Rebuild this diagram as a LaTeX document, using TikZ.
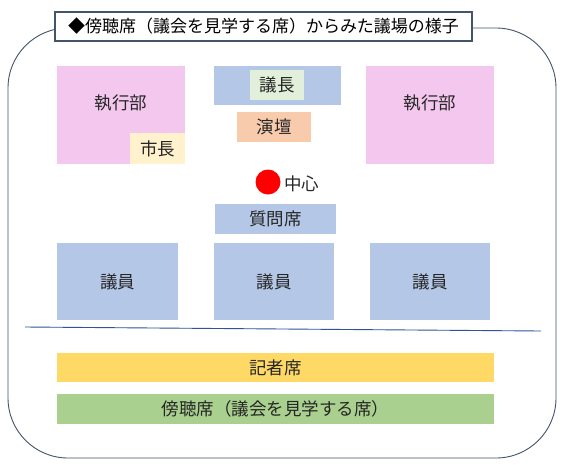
\documentclass[tikz,border=0pt]{standalone}
\usepackage{fontspec}
\setmainfont{Noto Sans CJK JP}
\definecolor{frame}{HTML}{44546A}
\definecolor{pinkx}{HTML}{F4C7EE}
\definecolor{bluex}{HTML}{B4C7E7}
\definecolor{greenl}{HTML}{E2EFDA}
\definecolor{peach}{HTML}{F8CBAD}
\definecolor{creamx}{HTML}{FFF2CC}
\definecolor{goldx}{HTML}{FFD966}
\definecolor{greenx}{HTML}{A9D08E}
\definecolor{linex}{HTML}{2F5597}
\definecolor{ink}{HTML}{262626}
\begin{document}
\begin{tikzpicture}[x=1pt,y=-1pt,
  area/.style={draw=none,inner sep=0pt,text=ink,font=\fontsize{17.5}{17.5}\selectfont},
  txt/.style={inner sep=0pt,text=ink,font=\fontsize{17.5}{17.5}\selectfont}]
\useasboundingbox (0,0) rectangle (568,464);
\fill[white] (0,0) rectangle (568,464);
\draw[frame,line width=0.9pt,rounded corners=60pt] (8,28) rectangle (556,458);
\node[draw=frame,fill=white,line width=1.1pt,inner sep=0pt,text=black,minimum width=417pt,minimum height=29pt,font=\fontsize{17}{17}\selectfont] (title) at (263.5,26.5) {◆傍聴席（議会を見学する席）からみた議場の様子};
% executive left
\node[area,fill=pinkx,minimum width=128pt,minimum height=98pt] (exL) at (121,115) {};
\node[txt] (exLt) at (121,103) {執行部};
\node[area,fill=creamx,minimum width=55pt,minimum height=31pt] (mayor) at (157.5,148.5) {市長};
% executive right
\node[area,fill=pinkx,minimum width=128pt,minimum height=98pt] (exR) at (430,115) {};
\node[txt] (exRt) at (430,103) {執行部};
% chair
\node[area,fill=bluex,minimum width=127pt,minimum height=39pt] (chairbar) at (277.5,85.5) {};
\node[area,fill=greenl,minimum width=54pt,minimum height=30pt] (chair) at (277,85) {議長};
\node[area,fill=peach,minimum width=74pt,minimum height=30pt] (podium) at (274,127) {演壇};
\fill[red] (268,182) circle (12.5pt);
\node[txt,anchor=west] (center) at (284,184) {中心};
\node[area,fill=bluex,minimum width=121pt,minimum height=30pt] (question) at (275.5,219) {質問席};
% members
\node[area,fill=bluex,minimum width=121pt,minimum height=77pt] (m1) at (117.5,281.5) {議員};
\node[area,fill=bluex,minimum width=120pt,minimum height=77pt] (m2) at (274,281.5) {議員};
\node[area,fill=bluex,minimum width=120pt,minimum height=77pt] (m3) at (430,281.5) {議員};
\coordinate (lA) at (25,327);
\coordinate (lB) at (541,331);
\draw[linex,line width=0.9pt] (lA) -- (lB);
\node[area,fill=goldx,minimum width=437pt,minimum height=29pt] (press) at (275.5,367.5) {記者席};
\node[area,fill=greenx,minimum width=437pt,minimum height=30pt] (gallery) at (275.5,409) {傍聴席（議会を見学する席）};
\end{tikzpicture}
\end{document}
